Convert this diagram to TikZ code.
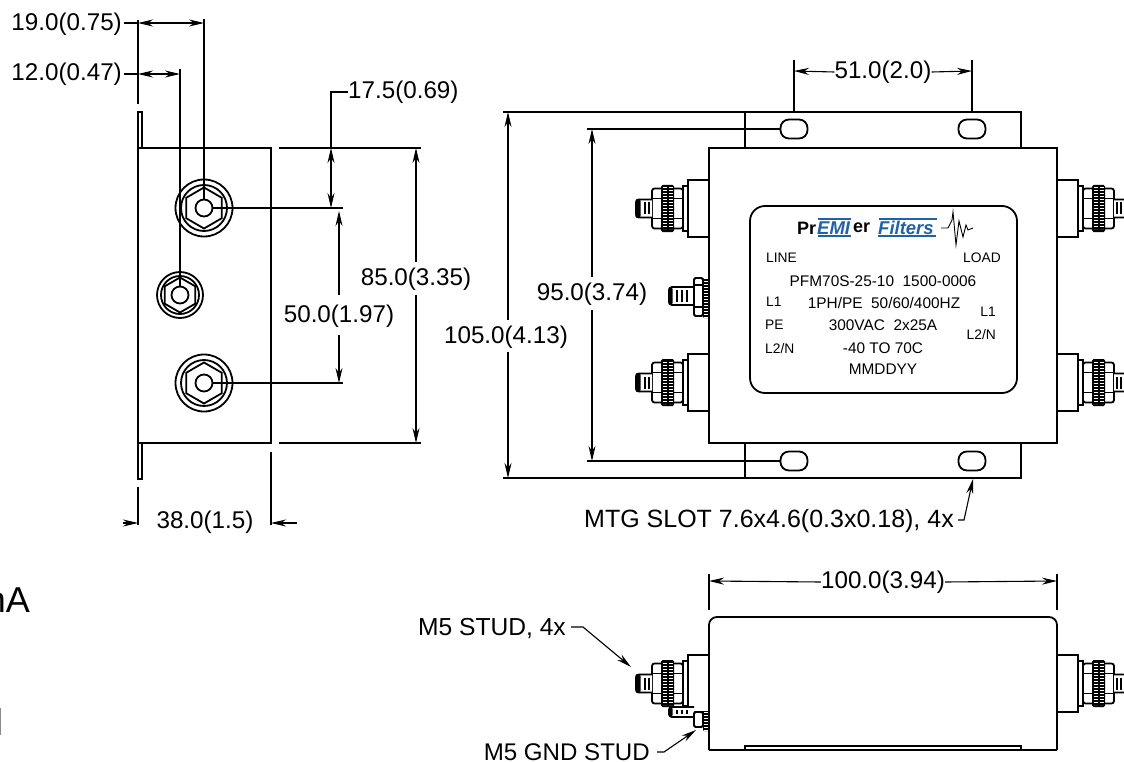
\documentclass[tikz,border=0pt]{standalone}
\usepackage{fontspec}
\setmainfont{Liberation Sans}
\usetikzlibrary{arrows.meta}
\definecolor{logoblue}{HTML}{1F62A8}
\tikzset{
  obj/.style={line width=1.8pt,black},
  ext/.style={line width=1.8pt,black},
  dimline/.style={line width=1.1pt,black},
  tip/.style={-{Stealth[length=15pt,width=7pt]}},
  tips/.style={{Stealth[length=15pt,width=7pt]}-{Stealth[length=15pt,width=7pt]}},
  big/.style={inner sep=0pt,font=\fontsize{24.2}{24}\selectfont},
  lead/.style={inner sep=0pt,font=\fontsize{24.6}{25}\selectfont},
  lab/.style={inner sep=0pt,font=\fontsize{15.4}{15}\selectfont},
  sm/.style={inner sep=0pt,font=\fontsize{13.8}{14}\selectfont},
  logo/.style={inner sep=0pt,font=\fontsize{18}{18}\selectfont\bfseries},
  logob/.style={inner sep=0pt,logoblue,font=\fontsize{18.5}{18}\selectfont\bfseries\itshape},
  knurl/.style={white,line width=4pt,dash pattern=on .8pt off 2.2pt},
}
% big terminal, origin on the body wall, pointing to -x
\newcommand{\bigterm}[3]{%
\begin{scope}[shift={(#1,#2)},xscale=#3]
 \draw[obj,fill=white] (-21,-28.5) rectangle (0,28.5);
 \draw[obj,fill=white] (-26,-22.5) rectangle (-21,22.5);
 \draw[obj,fill=white,rounded corners=2.5pt] (-57,-20) rectangle (-26,20);
 \draw[obj] (-57,-10) -- (-26,-10) (-57,10) -- (-26,10);
 \fill[black,rounded corners=1.5pt] (-48,-23.5) rectangle (-35,23.5);
 \draw[knurl] (-44.5,-21) -- (-44.5,21) (-38.5,-21) -- (-38.5,21);
 \draw[obj,fill=white] (-57,-9) -- (-70,-9) to[out=180,in=90] (-73,-6) -- (-73,6) to[out=-90,in=180] (-70,9) -- (-57,9);
 \fill[black,rounded corners=2pt] (-73.5,-9.5) rectangle (-68.5,9.5);
 \draw[line width=1.2pt] (-64,-6) -- (-64,6) (-60,-6) -- (-60,6);
\end{scope}}
% ground stud nut and knurl, origin on the body wall
\newcommand{\gndstud}[5]{%
\begin{scope}[shift={(#1,#2)}]
 \draw[obj,fill=white,rounded corners=1.5pt] (-15,#3) rectangle (-6,#4);
 \fill[black,rounded corners=1pt] (-6,#3) rectangle (0,#5);
 \draw[knurl] (-3,#3) -- (-3,#5);
\end{scope}}
\newcommand{\gndshank}[3]{%
\begin{scope}[shift={(#1,#2)}]
 \draw[obj,fill=white] (-15,-#3) -- (-37,-#3) to[out=180,in=90] (-40,-#3+3) -- (-40,#3-3) to[out=-90,in=180] (-37,#3) -- (-15,#3);
 \fill[black,rounded corners=2pt] (-40.5,-#3) rectangle (-36.5,#3);
 \draw[line width=1.2pt] (-32,-#3+3) -- (-32,#3-3) (-27,-#3+3) -- (-27,#3-3) (-22,-#3+3) -- (-22,#3-3);
\end{scope}}
% stud seen end on
\newcommand{\studface}[6]{%
 \draw[obj] (#1,#2) circle (#3) (#1,#2) circle (#4) (#1,#2) circle (#6);
 \draw[obj] (#1,#2)++(90:#5) -- ++(-30:#5) -- ++(-90:#5) -- ++(-150:#5) -- ++(150:#5) -- ++(90:#5) -- cycle;
}
\newcommand{\mtgslot}[2]{%
 \draw[obj,fill=white,rounded corners=8.5pt] (#1-13.5,#2-9.5) rectangle (#1+13.5,#2+9.5);}
\begin{document}
\begin{tikzpicture}[x=1pt,y=-1pt]
\useasboundingbox (0,0) rectangle (1124,762);
% ---------- side view
\draw[obj] (138,148) rectangle (271,443);
\draw[obj,line width=1.3pt] (138,148) -- (138,112) -- (142,112) -- (142,148);
\draw[obj,line width=1.3pt] (138,443) -- (138,479) -- (142,479) -- (142,443);
\studface{204}{208}{28.5}{23}{20.5}{8.5}
\studface{204}{383}{28.5}{23}{20.5}{8.5}
\studface{180}{295}{23}{19}{17.5}{8.5}
% extension lines
\draw[ext] (138,20) -- (138,104);
\draw[ext] (138,487) -- (138,525);
\draw[ext] (271,452) -- (271,525);
\draw[ext] (204,19) -- (204,200);
\draw[ext] (180,69) -- (180,287);
\draw[ext] (212,208) -- (343,208);
\draw[ext] (212,383) -- (343,383);
\draw[ext] (279,148) -- (421,148);
\draw[ext] (279,443) -- (421,443);
% dimensions
\node[big,anchor=east] (d19) at (122,24) {19.0(0.75)};
\node[big,anchor=east] (d12) at (122,74) {12.0(0.47)};
\node[big,anchor=west] (d175) at (348,92) {17.5(0.69)};
\node[big] (d85) at (416,279) {85.0(3.35)};
\node[big] (d50) at (339,316) {50.0(1.97)};
\node[big] (d38) at (205,522) {38.0(1.5)};
\coordinate (a19) at (204,23);
\coordinate (a12) at (180,74);
\draw[dimline] (124,23) -- (138,23);
\draw[dimline,tips] (138,23) -- (a19);
\draw[dimline] (124,74) -- (138,74);
\draw[dimline,tips] (138,74) -- (a12);
\draw[dimline,tips] (331,148) -- (331,208);
\draw[dimline] (331,148) -- (331,92) -- (d175.west);
\draw[dimline,tip] (339,295) -- (339,211);
\draw[dimline,tip] (339,335) -- (339,383);
\draw[dimline,tip] (416,262) -- (416,148);
\draw[dimline,tip] (416,295) -- (416,443);
\draw[dimline,tip] (123,523) -- (138,523);
\draw[dimline,tip] (297,523) -- (271,523);
% ---------- front view
\draw[obj,fill=white] (745,112) rectangle (1021,148);
\draw[obj,fill=white] (745,443) rectangle (1021,478);
\mtgslot{794}{129}\mtgslot{972}{129}\mtgslot{794}{461}\mtgslot{972}{461}
\draw[obj] (709,148) rectangle (1057,443);
\bigterm{709}{208.5}{1}
\bigterm{709}{382.5}{1}
\bigterm{1057}{208.5}{-1}
\bigterm{1057}{382.5}{-1}
\gndshank{709}{296}{9}
\gndstud{709}{296}{-18}{20}{22}
\draw[obj] (694,285) -- (703,285) (694,307) -- (703,307);
\draw[obj,rounded corners=15pt] (750,206) rectangle (1017,393);
% label
\node[logo,anchor=west] (pr) at (797,228) {Pr};
\node[logob,anchor=west] (emi) at (817,228) {EMI};
\node[logo,anchor=west] (er) at (853,228) {er};
\node[logob,anchor=west] (fil) at (878,228) {Filters};
\draw[logoblue,line width=1.3pt] (818,219) -- (851,219) (818,236) -- (851,236) (879,219) -- (937,219) (878,236) -- (936,236);
\draw[line width=.9pt] (941,228) -- (948,228) -- (952,220) -- (953,212) -- (956,245) -- (959,221) -- (963,237) -- (966,225) -- (968,230) -- (973,228);
\node[sm,anchor=west] (line) at (766,258) {LINE};
\node[sm,anchor=east] (load) at (1001,258) {LOAD};
\node[lab] (t1) at (883,281) {PFM70S-25-10\ \ 1500-0006};
\node[lab] (t2) at (884,303) {1PH/PE\ \ 50/60/400HZ};
\node[lab] (t3) at (883,325) {300VAC\ \ 2x25A};
\node[lab] (t4) at (883,348) {-40 TO 70C};
\node[lab] (t5) at (883,369) {MMDDYY};
\node[sm,anchor=west] (ll1) at (766,302) {L1};
\node[sm,anchor=west] (lpe) at (765,325) {PE};
\node[sm,anchor=west] (ll2) at (765,349) {L2/N};
\node[sm,anchor=east] (rl1) at (996,312) {L1};
\node[sm,anchor=east] (rl2) at (996,335) {L2/N};
% front dims
\node[big] (d51) at (883,72) {51.0(2.0)};
\node[big] (d95) at (592,294) {95.0(3.74)};
\node[big] (d105) at (506,337) {105.0(4.13)};
\node[lead,anchor=west,font=\fontsize{25}{25}\selectfont] (mtg) at (584,521) {MTG SLOT 7.6x4.6(0.3x0.18), 4x};
\draw[ext] (794,60) -- (794,112) (972,60) -- (972,112);
\draw[ext] (503,112) -- (745,112) (503,478) -- (745,478);
\draw[ext] (587,129) -- (780,129) (587,461) -- (780,461);
\draw[dimline,tip] (d51.west) -- (794,71);
\draw[dimline,tip] (d51.east) -- (972,71);
\draw[dimline,tip] (592,277) -- (592,129);
\draw[dimline,tip] (592,310) -- (592,461);
\draw[dimline,tip] (508,320) -- (508,112);
\draw[dimline,tip] (508,352) -- (508,478);
\coordinate (mtgtip) at (973,479);
\draw[dimline,tip] (958,520) -- (964,520) -- (mtgtip);
% ---------- bottom view
\bigterm{709}{683.5}{1}
\bigterm{1057}{683.5}{-1}
\gndshank{709}{712}{5}
\gndstud{709}{712}{0}{15}{19}
\draw[obj,fill=white,rounded corners=8pt] (709,750) -- (709,617) -- (1057,617) -- (1057,750);
\draw[obj] (709,750) -- (1057,750);
\draw[obj] (745,750) -- (745,746) -- (1021,746) -- (1021,750);
\draw[ext] (709,574) -- (709,610) (1057,574) -- (1057,610);
\node[big] (d100) at (883,582) {100.0(3.94)};
\draw[dimline,tip] (d100.west) -- (709,581);
\draw[dimline,tip] (d100.east) -- (1057,581);
\node[lead,anchor=east] (stud) at (566,628) {M5 STUD, 4x};
\node[inner sep=0pt,font=\fontsize{24.1}{24}\selectfont,anchor=base east] (gnd) at (650,760) {M5 GND STUD};
\coordinate (studtip) at (631,667);
\coordinate (gndtip) at (696,730);
\draw[dimline,tip] (571,627) -- (583,627) -- (studtip);
\draw[dimline,tip] (657,752) -- (664,752) -- (gndtip);
% ---------- cropped fragments at the left edge
\node[inner sep=0pt,anchor=base east,font=\fontsize{36}{36}\selectfont] (frag) at (30,612) {mA};
\draw[line width=1pt,black!45] (0,708) -- (0,735);
\end{tikzpicture}
\end{document}
